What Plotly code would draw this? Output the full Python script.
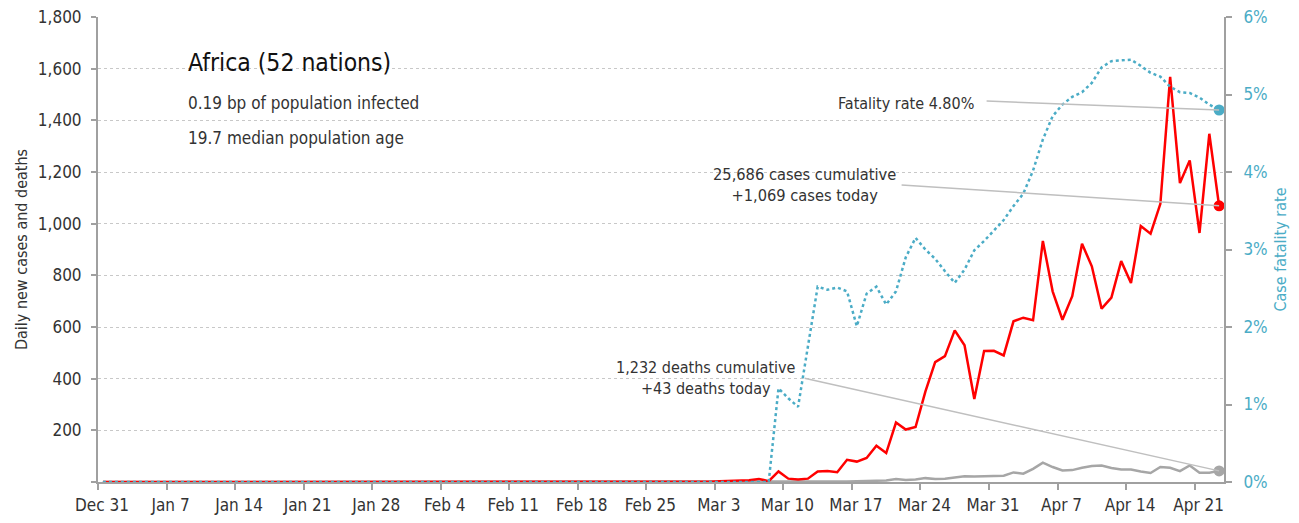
import pandas as pd
import plotly.graph_objects as go

# ---- data (daily values, Dec 31 2019 .. Apr 23 2020) ----
start_date = "2019-12-31 12:00"

cases = [
    0, 0, 0, 0, 0, 0, 0, 0, 0, 0, 0, 0, 0, 0, 0, 0, 0, 0, 0, 0,
    0, 0, 0, 0, 0, 0, 0, 0, 0, 0, 0, 0, 0, 0, 0, 0, 0, 0, 0, 0,
    0, 0, 0, 0, 0, 1, 0, 0, 0, 0, 0, 0, 0, 0, 0, 0, 1, 0, 0, 1,
    0, 2, 1, 3, 4, 5, 7, 12, 3, 41, 13, 10, 13, 41, 43, 38, 86, 79, 93, 140,
    112, 230, 203, 213, 350, 464, 487, 587, 529, 321, 507, 508, 490, 622, 636, 626, 933, 738, 628, 719,
    922, 835, 671, 714, 855, 770, 991, 961, 1077, 1568, 1157, 1245, 964, 1348, 1069,
]

deaths = [
    0, 0, 0, 0, 0, 0, 0, 0, 0, 0, 0, 0, 0, 0, 0, 0, 0, 0, 0, 0,
    0, 0, 0, 0, 0, 0, 0, 0, 0, 0, 0, 0, 0, 0, 0, 0, 0, 0, 0, 0,
    0, 0, 0, 0, 0, 0, 0, 0, 0, 0, 0, 0, 0, 0, 0, 0, 0, 0, 0, 0,
    0, 0, 0, 0, 0, 0, 0, 0, 1, 1, 0, 1, 1, 1, 2, 1, 2, 3, 3, 5,
    6, 12, 8, 10, 15, 12, 13, 18, 22, 21, 23, 23, 24, 37, 32, 51, 75, 58, 45, 46,
    55, 62, 64, 54, 48, 48, 41, 35, 58, 55, 42, 64, 36, 36, 43,
]

fatality_rate = [
    0, 0, 0, 0, 0, 0, 0, 0, 0, 0, 0, 0, 0, 0, 0, 0, 0, 0, 0, 0,
    0, 0, 0, 0, 0, 0, 0, 0, 0, 0, 0, 0, 0, 0, 0, 0, 0, 0, 0, 0,
    0, 0, 0, 0, 0, 0, 0, 0, 0, 0, 0, 0, 0, 0, 0, 0, 0, 0, 0, 0,
    0, 0, 0, 0, 0, 0, 0, 0, 0, 1.21, 1.08, 0.97, 1.75, 2.52, 2.48, 2.51, 2.46, 2.01, 2.43, 2.52,
    2.29, 2.46, 2.90, 3.15, 3.00, 2.88, 2.72, 2.57, 2.74, 2.99, 3.11, 3.24, 3.38, 3.56, 3.72, 4.02, 4.42, 4.72, 4.87, 4.97,
    5.03, 5.15, 5.35, 5.43, 5.44, 5.45, 5.37, 5.28, 5.23, 5.10, 5.03, 5.02, 4.96, 4.87, 4.80,
]

week_labels = ["Dec 31", "Jan 7", "Jan 14", "Jan 21", "Jan 28", "Feb 4", "Feb 11", "Feb 18",
               "Feb 25", "Mar 3", "Mar 10", "Mar 17", "Mar 24", "Mar 31", "Apr 7", "Apr 14", "Apr 21"]

title_text = "Africa (52 nations)"
subtitle_lines = ["0.19 bp of population infected", "19.7 median population age"]
rate_label = "Fatality rate 4.80%"
cases_label = "25,686 cases cumulative<br>+1,069 cases today"
deaths_label = "1,232 deaths cumulative<br>+43 deaths today"

# ---- styling ----
FONT = "Liberation Sans Narrow, DejaVu Sans Condensed, Roboto Condensed, Arial Narrow, DejaVu Sans, sans-serif"
RED = "#FF0000"
GREY = "#A6A6A6"
BLUE = "#4BACC6"
TXT = "#333333"
AXIS = "#A0A0A0"
LEADER = "#BFBFBF"

# page has an 8px body margin; the figure is sized/placed to compensate
OFF = 8
W, H = 1299 - OFF, 523 - OFF
ML, MR, MT, MB = 90, 75, 9, 41

dates = pd.date_range(start_date, periods=len(cases), freq="D")
week_ticks = pd.date_range("2019-12-31", periods=len(week_labels), freq="7D")

fig = go.Figure()
fig.add_trace(go.Scatter(x=dates, y=deaths, mode="lines", line=dict(color=GREY, width=2.5),
                         hoverinfo="skip", showlegend=False))
fig.add_trace(go.Scatter(x=dates, y=cases, mode="lines", line=dict(color=RED, width=2.5),
                         hoverinfo="skip", showlegend=False))
fig.add_trace(go.Scatter(x=dates, y=fatality_rate, mode="lines", yaxis="y2",
                         line=dict(color=BLUE, width=2.5, dash="dot"),
                         hoverinfo="skip", showlegend=False))
# end markers
fig.add_trace(go.Scatter(x=[dates[-1]], y=[deaths[-1]], mode="markers",
                         marker=dict(color=GREY, size=11), showlegend=False, hoverinfo="skip"))
fig.add_trace(go.Scatter(x=[dates[-1]], y=[cases[-1]], mode="markers",
                         marker=dict(color=RED, size=11), showlegend=False, hoverinfo="skip"))
fig.add_trace(go.Scatter(x=[dates[-1]], y=[fatality_rate[-1]], mode="markers", yaxis="y2",
                         marker=dict(color=BLUE, size=11), showlegend=False, hoverinfo="skip"))

left_ticks = list(range(0, 1801, 200))
left_text = ["" if v == 0 else f"{v:,}" for v in left_ticks]

fig.update_layout(
    width=W, height=H, autosize=False,
    margin=dict(l=ML, r=MR, t=MT, b=MB, autoexpand=False),
    paper_bgcolor="white", plot_bgcolor="white",
    font=dict(family=FONT, size=17, color=TXT),
    xaxis=dict(
        type="date", range=["2019-12-31", "2020-04-24"], automargin=False,
        tickvals=week_ticks, ticktext=week_labels,
        showgrid=False, zeroline=False,
        showline=True, linecolor=AXIS, linewidth=2,
        ticks="outside", ticklen=6, tickwidth=1.5, tickcolor=AXIS,
        ticklabelshift=4, ticklabelstandoff=1, ticklabeloverflow="allow",
        tickfont=dict(family=FONT, size=17, color=TXT),
    ),
    yaxis=dict(
        range=[0, 1800], tickvals=left_ticks, ticktext=left_text, automargin=False,
        showgrid=True, gridcolor="#C8C8C8", griddash="dot", gridwidth=1,
        zeroline=False, showline=True, linecolor=AXIS, linewidth=2,
        ticks="outside", ticklen=5, tickwidth=1.5, tickcolor=AXIS,
        ticklabelstandoff=6, ticklabeloverflow="allow",
        tickfont=dict(family=FONT, size=17, color=TXT),
        title=dict(text="Daily new cases and deaths", font=dict(family=FONT, size=16, color=TXT),
                   standoff=6),
    ),
    yaxis2=dict(
        overlaying="y", side="right", range=[0, 6], dtick=1, ticksuffix="%", automargin=False,
        showgrid=False, zeroline=False, showline=True, linecolor=AXIS, linewidth=2,
        ticks="outside", ticklen=6, tickwidth=1.5, tickcolor=AXIS,
        ticklabelstandoff=8, ticklabeloverflow="allow",
        tickfont=dict(family=FONT, size=17, color=BLUE),
        title=dict(text="Case fatality rate", font=dict(family=FONT, size=16, color=BLUE),
                   standoff=8),
    ),
)

# page pixel -> paper helpers
PW, PH = W - ML - MR, H - MT - MB


def px(xp):
    return (xp - OFF - ML) / PW


def py(yp):
    return 1 - (yp - OFF - MT) / PH


ann = []
ann.append(dict(x=px(186), y=py(63), xref="paper", yref="paper", xanchor="left", yanchor="middle",
                text=title_text, showarrow=False, font=dict(family=FONT, size=24.5, color="#111111")))
ann.append(dict(x=px(186), y=py(103), xref="paper", yref="paper", xanchor="left", yanchor="middle",
                text=subtitle_lines[0], showarrow=False, font=dict(family=FONT, size=17, color=TXT)))
ann.append(dict(x=px(186), y=py(138), xref="paper", yref="paper", xanchor="left", yanchor="middle",
                text=subtitle_lines[1], showarrow=False, font=dict(family=FONT, size=17, color=TXT)))

# leader lines (from label to the last data point)
ann.append(dict(x=dates[-1], y=fatality_rate[-1], xref="x", yref="y2", text="", showarrow=True,
                arrowhead=0, arrowwidth=1.5, arrowcolor=LEADER, ax=-234, ay=-9, standoff=0))
ann.append(dict(x=dates[-1], y=cases[-1], xref="x", yref="y", text="", showarrow=True,
                arrowhead=0, arrowwidth=1.5, arrowcolor=LEADER, ax=-319, ay=-21, standoff=0))
ann.append(dict(x=dates[-1], y=deaths[-1], xref="x", yref="y", text="", showarrow=True,
                arrowhead=0, arrowwidth=1.5, arrowcolor=LEADER, ax=-416, ay=-93, standoff=0))

ann.append(dict(x=px(976), y=py(103), xref="paper", yref="paper", xanchor="right", yanchor="middle",
                text=rate_label, showarrow=False, font=dict(family=FONT, size=16, color=TXT)))
ann.append(dict(x=px(804), y=py(185), xref="paper", yref="paper", xanchor="center", yanchor="middle",
                text=cases_label, showarrow=False, align="center",
                font=dict(family=FONT, size=16.3, color=TXT)))
ann.append(dict(x=px(706), y=py(378), xref="paper", yref="paper", xanchor="center", yanchor="middle",
                text=deaths_label, showarrow=False, align="center",
                font=dict(family=FONT, size=16, color=TXT)))

fig.update_layout(annotations=ann)

fig.write_html("out.html")
